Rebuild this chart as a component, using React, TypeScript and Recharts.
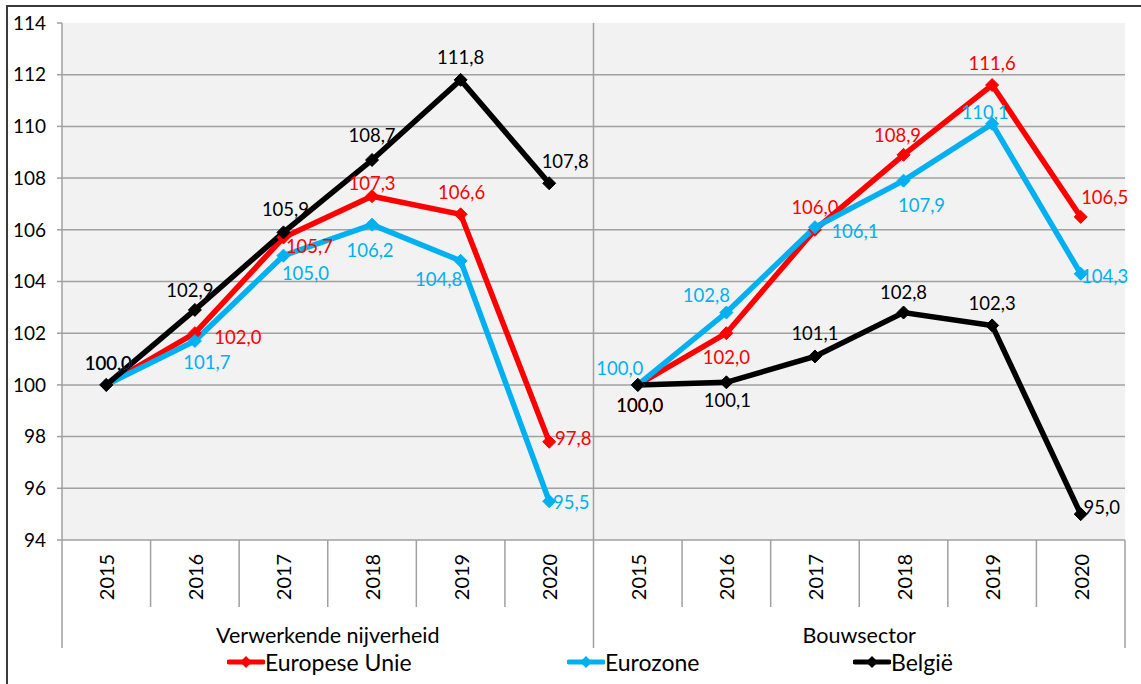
import React from 'react';
import { LineChart, Line, XAxis, YAxis, CartesianGrid, LabelList } from 'recharts';

const years = ['2015', '2016', '2017', '2018', '2019', '2020'];
const groups = ['Verwerkende nijverheid', 'Bouwsector'];

// Verwerkende nijverheid
const euManuf = [100.0, 102.0, 105.7, 107.3, 106.6, 97.8];
const ezManuf = [100.0, 101.7, 105.0, 106.2, 104.8, 95.5];
const beManuf = [100.0, 102.9, 105.9, 108.7, 111.8, 107.8];

// Bouwsector
const euBouw = [100.0, 102.0, 106.0, 108.9, 111.6, 106.5];
const ezBouw = [100.0, 102.8, 106.1, 107.9, 110.1, 104.3];
const beBouw = [100.0, 100.1, 101.1, 102.8, 102.3, 95.0];

const yTicks = [94, 96, 98, 100, 102, 104, 106, 108, 110, 112, 114];
const gridValues = [96, 98, 100, 102, 104, 106, 108, 110, 112];

const W = 1141;
const H = 684;
const M = { top: 23, right: 16, left: 0, bottom: 0 };
const Y_AXIS_W = 62;
const PLOT_TOP = M.top;
const PLOT_BOTTOM = 540;
const BAND = (W - M.left - M.right - Y_AXIS_W) / 12;
const FONT = 'Lato, "Open Sans", sans-serif';
const GRID = '#A0A0A0';

const RED = '#FF0000';
const BLUE = '#00B0F0';
const BLACK = '#000000';

// label offsets [dx, dy] relative to the point
const labelOffsets: Record<string, number[][]> = {
  eu0: [[2, -22], [43, 4], [26, 8], [0, -13], [1, -22], [24, -4]],
  ez0: [[2, -22], [12, 21], [22, 17], [-2, 25], [-22, 18], [22, 1]],
  be0: [[2, -22], [-5, -20], [2, -23], [0, -25], [0, -23], [16, -22]],
  eu1: [[2, 20], [0, 24], [0, -23], [-6, -20], [0, -22], [24, -20]],
  ez1: [[-18, -17], [-20, -18], [40, 4], [18, 24], [-7, -12], [24, 2]],
  be1: [[2, 20], [1, 18], [0, -23], [0, -21], [0, -22], [21, -7]],
};

const rows = groups.flatMap((g, gi) =>
  years.map((y, yi) => ({
    key: `${gi}-${y}`,
    year: y,
    group: g,
    eu0: gi === 0 ? euManuf[yi] : null,
    ez0: gi === 0 ? ezManuf[yi] : null,
    be0: gi === 0 ? beManuf[yi] : null,
    eu1: gi === 1 ? euBouw[yi] : null,
    ez1: gi === 1 ? ezBouw[yi] : null,
    be1: gi === 1 ? beBouw[yi] : null,
  }))
);

const fmt = (v: number) => v.toFixed(1).replace('.', ',');

const diamond = (color: string) => (props: any) => {
  const { cx, cy, index } = props;
  if (cx == null || cy == null) return <g key={`e-${index}`} />;
  const r = 6.5;
  return (
    <path
      key={`d-${index}`}
      d={`M${cx},${cy - r}L${cx + r},${cy}L${cx},${cy + r}L${cx - r},${cy}Z`}
      fill={color}
      stroke={color}
    />
  );
};

const makeLabel = (series: string, color: string) => (props: any) => {
  const { value, index } = props;
  if (value == null) return null;
  const x = props.x ?? props.viewBox?.x;
  const y = props.y ?? props.viewBox?.y;
  if (x == null || y == null) return null;
  const off = labelOffsets[series][index % 6] || [0, -22];
  return (
    <text
      x={x + off[0]}
      y={y + off[1]}
      fill={color}
      fontSize={18.5}
      fontFamily={FONT}
      textAnchor="middle"
      dominantBaseline="central"
    >
      {fmt(value)}
    </text>
  );
};

const CategoryTick = (props: any) => {
  const { x, payload } = props;
  const i = payload.index;
  const row = rows[i];
  const left = x - BAND / 2;
  const right = x + BAND / 2;
  const cy = 577;
  return (
    <g>
      <line
        x1={left}
        x2={left}
        y1={i === 6 ? PLOT_TOP : PLOT_BOTTOM}
        y2={i % 6 === 0 ? 648 : 607}
        stroke={GRID}
        strokeWidth={1.5}
      />
      {i === 11 && (
        <line x1={right} x2={right} y1={PLOT_BOTTOM} y2={648} stroke={GRID} strokeWidth={1.5} />
      )}
      <text
        x={x}
        y={cy}
        transform={`rotate(-90, ${x}, ${cy})`}
        textAnchor="middle"
        dominantBaseline="central"
        fontSize={20}
        fontFamily={FONT}
        fill="#000"
      >
        {row.year}
      </text>
      {i % 6 === 0 && (
        <text
          x={left + BAND * 3}
          y={635}
          textAnchor="middle"
          dominantBaseline="central"
          fontSize={21.5}
          fontFamily={FONT}
          fill="#000"
        >
          {row.group}
        </text>
      )}
    </g>
  );
};

const legendItems = [
  { name: 'Europese Unie', color: RED, left: 227 },
  { name: 'Eurozone', color: BLUE, left: 567 },
  { name: 'België', color: BLACK, left: 853 },
];

const series = [
  { key: 'eu0', color: RED },
  { key: 'eu1', color: RED },
  { key: 'ez0', color: BLUE },
  { key: 'ez1', color: BLUE },
  { key: 'be0', color: BLACK },
  { key: 'be1', color: BLACK },
];

export default function App() {
  return (
    <div style={{ position: 'absolute', left: 0, top: 0, width: W, height: H, background: '#fff', overflow: 'hidden' }}>
      <div
        style={{
          position: 'absolute',
          left: 6,
          top: 5,
          width: W + 20,
          height: H + 20,
          border: '2px solid #3a3a3a',
          boxSizing: 'border-box',
        }}
      />
      <div style={{ position: 'absolute', left: 0, top: 0 }}>
        <LineChart width={W} height={H} data={rows} margin={M}>
          <CartesianGrid
            vertical={false}
            horizontalValues={gridValues}
            stroke={GRID}
            strokeWidth={1.5}
            fill="#F2F2F2"
          />
          <XAxis
            dataKey="key"
            scale="band"
            interval={0}
            height={H - PLOT_BOTTOM}
            tickLine={false}
            axisLine={{ stroke: GRID, strokeWidth: 1.5 }}
            tick={<CategoryTick />}
          />
          <YAxis
            width={Y_AXIS_W}
            domain={[94, 114]}
            ticks={yTicks}
            interval={0}
            tickSize={5}
            tickMargin={11}
            tickLine={{ stroke: GRID, strokeWidth: 1.5 }}
            axisLine={{ stroke: GRID, strokeWidth: 1.5 }}
            tick={{ fill: '#000', fontSize: 19, fontFamily: FONT }}
          />
          {series.map((s) => (
            <Line
              key={s.key}
              dataKey={s.key}
              stroke={s.color}
              strokeWidth={5.5}
              dot={diamond(s.color)}
              activeDot={false}
              connectNulls={false}
              isAnimationActive={false}
              legendType="none"
            >
              <LabelList dataKey={s.key} content={makeLabel(s.key, s.color)} />
            </Line>
          ))}
        </LineChart>
      </div>
      {legendItems.map((it) => (
        <div
          key={it.name}
          style={{
            position: 'absolute',
            left: it.left,
            top: 648,
            height: 28,
            display: 'flex',
            alignItems: 'center',
            fontFamily: FONT,
            fontSize: 23,
            color: '#000',
          }}
        >
          <svg width={38} height={14} style={{ marginRight: 0 }}>
            <line x1={2} x2={36} y1={7} y2={7} stroke={it.color} strokeWidth={5} strokeLinecap="round" />
            <path d="M19,1L25,7L19,13L13,7Z" fill={it.color} />
          </svg>
          <span>{it.name}</span>
        </div>
      ))}
    </div>
  );
}
